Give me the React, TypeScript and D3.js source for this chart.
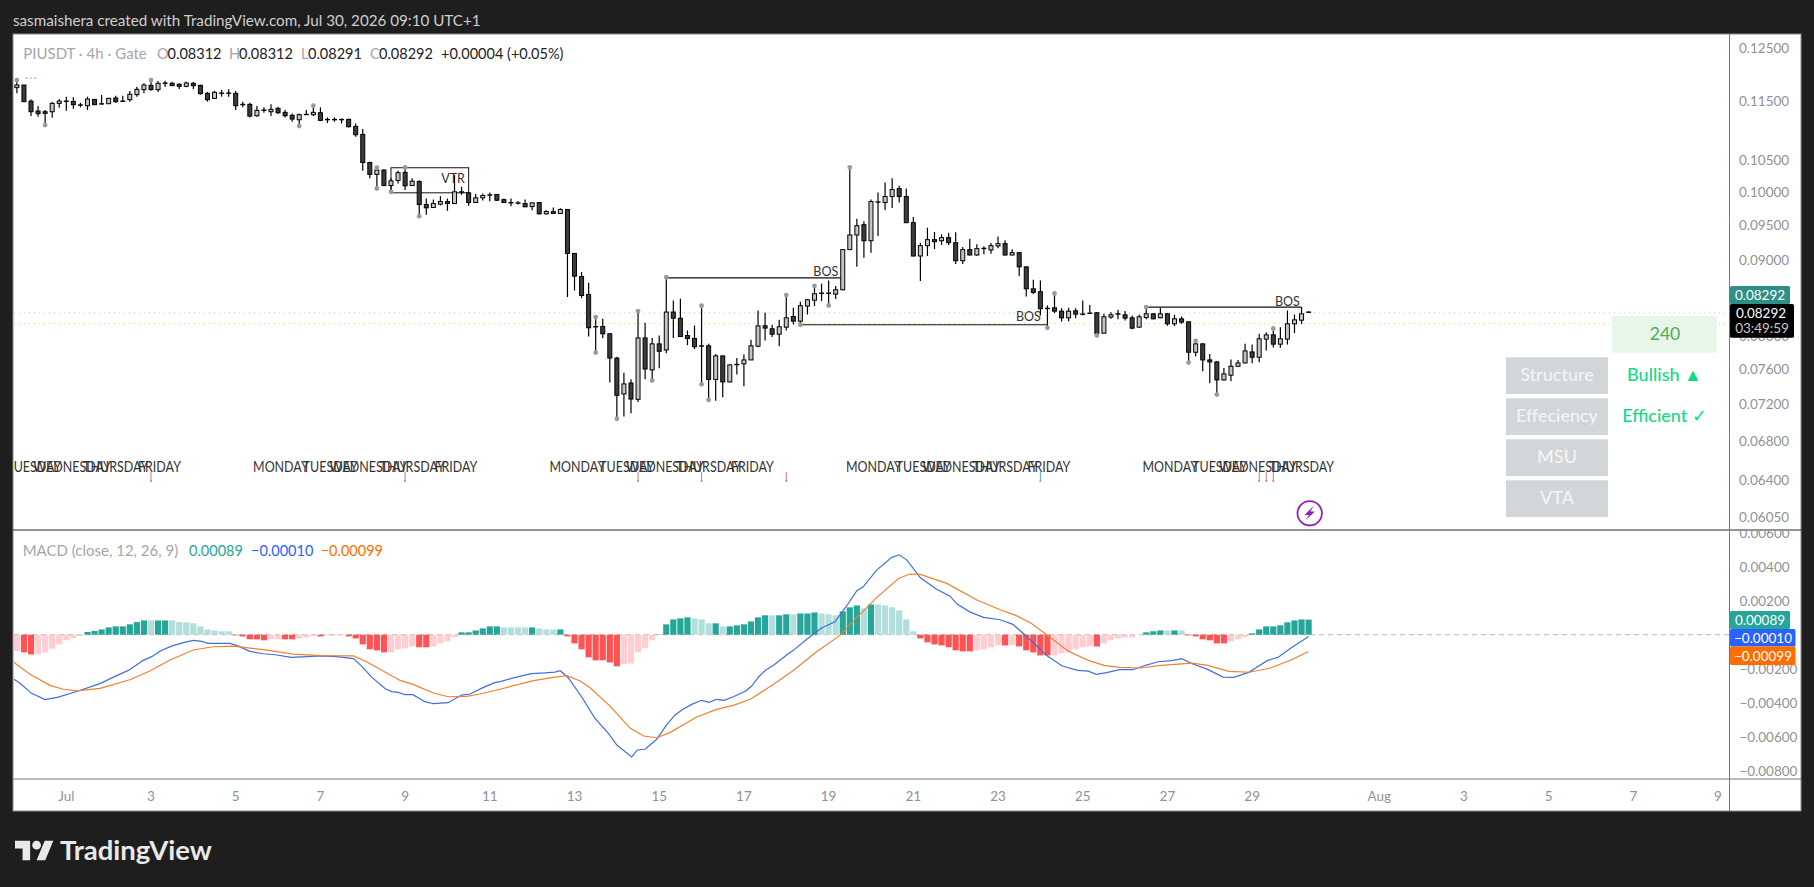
import React from "react";
import * as d3 from "d3";

const opens = [.11751,.11799,.11509,.11333,.11321,.11321,.11468,.11509,.11503,.11451,
.11427,.11539,.11468,.11462,.11564,.11515,.11533,.11624,.11715,.11793,
.11715,.11830,.11830,.11812,.11775,.11830,.11793,.11648,.11557,.11648,
.11648,.11648,.11445,.11451,.11251,.11345,.11321,.11380,.11310,.11257,
.11181,.11269,.11269,.11304,.11187,.11187,.11187,.11187,.11068,.10931,
.10466,.10275,.10344,.10100,.10178,.10307,.10100,.10162,.09807,.09762,
.09812,.09852,.09822,.09997,.09986,.09837,.09909,.09955,.09961,.09882,
.09837,.09832,.09822,.09777,.09837,.09667,.09702,.09672,.09732,.09092,
.08774,.08533,.08114,.08120,.08029,.07733,.07315,.07440,.07255,.07978,
.07593,.07905,.07831,.08304,.08225,.08008,.07971,.07881,.07881,.07482,
.07759,.07453,.07660,.07664,.07711,.07877,.08129,.08092,.08024,.08112,
.08247,.08188,.08381,.08458,.08547,.08547,.08538,.08595,.09146,.09355,
.09506,.09273,.09852,.09837,.09929,.10052,.09929,.09535,.09056,.09202,
.09288,.09273,.09317,.09245,.08990,.09146,.09070,.09160,.09141,.09198,
.09231,.09070,.09103,.08905,.08608,.08569,.08354,.08358,.08315,.08230,
.08320,.08281,.08286,.08294,.08037,.08239,.08277,.08268,.08230,.08112,
.08234,.08281,.08230,.08281,.08154,.08217,.08179,.07803,.07905,.07711,
.07687,.07476,.07531,.07636,.07675,.07807,.07743,.07963,.08016,.07901,
.07963,.08154,.08200,.08312];

const closes = [.11799,.11498,.11321,.11286,.11292,.11468,.11509,.11503,.11445,.11427,
.11545,.11445,.11451,.11557,.11498,.11498,.11630,.11721,.11799,.11715,
.11830,.11836,.11787,.11775,.11836,.11787,.11642,.11533,.11666,.11654,
.11654,.11427,.11451,.11245,.11345,.11351,.11363,.11304,.11251,.11193,
.11269,.11275,.11310,.11170,.11181,.11181,.11181,.11062,.10925,.10466,
.10275,.10344,.10100,.10173,.10302,.10095,.10167,.09807,.09757,.09822,
.09852,.09822,.10002,.10002,.09837,.09909,.09945,.09950,.09872,.09837,
.09832,.09827,.09772,.09832,.09667,.09702,.09672,.09732,.09092,.08778,
.08520,.08104,.08120,.08029,.07733,.07300,.07430,.07258,.07978,.07603,
.07905,.07815,.08304,.08225,.07995,.07971,.07870,.07877,.07482,.07759,
.07453,.07652,.07652,.07711,.07881,.08128,.08100,.08024,.08117,.08230,
.08188,.08385,.08463,.08542,.08551,.08551,.08595,.09146,.09356,.09491,
.09273,.09852,.09837,.09929,.10037,.09929,.09535,.09056,.09202,.09288,
.09259,.09317,.09245,.08990,.09146,.09070,.09160,.09165,.09202,.09231,
.09070,.09103,.08905,.08608,.08560,.08347,.08347,.08315,.08230,.08315,
.08277,.08273,.08290,.08033,.08243,.08268,.08281,.08226,.08099,.08243,
.08281,.08217,.08281,.08154,.08217,.08175,.07803,.07905,.07711,.07687,
.07476,.07546,.07636,.07675,.07819,.07743,.07967,.08016,.07901,.07967,
.08154,.08204,.08281,.08292];

const highs = [.11890,.11799,.11539,.11421,.11351,.11498,.11545,.11588,.11576,.11480,
.11588,.11545,.11618,.11570,.11606,.11606,.11690,.11769,.11830,.11890,
.11872,.11878,.11860,.11830,.11860,.11854,.11806,.11672,.11690,.11708,
.11721,.11690,.11498,.11480,.11421,.11398,.11451,.11409,.11351,.11292,
.11292,.11351,.11427,.11398,.11222,.11222,.11205,.11205,.11118,.11022,
.10477,.10381,.10355,.10212,.10333,.10386,.10212,.10183,.09898,.09882,
.09934,.09898,.10263,.10079,.09992,.09966,.09976,.09992,.09966,.09898,
.09898,.09862,.09882,.09837,.09842,.09722,.09762,.09752,.09737,.09092,
.08833,.08689,.08239,.08217,.08037,.07750,.07560,.07483,.08316,.08168,
.07978,.08007,.08765,.08454,.08476,.08070,.08133,.08385,.07905,.07783,
.07763,.07656,.07734,.07775,.07954,.08324,.08294,.08142,.08204,.08525,
.08358,.08437,.08472,.08645,.08676,.08720,.08645,.09146,.10386,.09595,
.09555,.09883,.09990,.10147,.10215,.10095,.10052,.09620,.09245,.09461,
.09399,.09365,.09389,.09394,.09184,.09302,.09221,.09193,.09240,.09335,
.09278,.09150,.09112,.08909,.08729,.08720,.08389,.08547,.08354,.08358,
.08354,.08454,.08394,.08303,.08281,.08302,.08333,.08316,.08260,.08268,
.08367,.08290,.08358,.08290,.08268,.08247,.08183,.07942,.07913,.07783,
.07695,.07616,.07715,.07711,.07905,.07897,.08029,.08049,.08095,.08112,
.08324,.08272,.08367,.08312];

const lows = [.11648,.11498,.11245,.11234,.11090,.11216,.11392,.11339,.11374,.11398,
.11351,.11439,.11445,.11457,.11480,.11492,.11498,.11588,.11648,.11696,
.11672,.11769,.11781,.11727,.11757,.11727,.11624,.11498,.11551,.11588,
.11588,.11351,.11398,.11222,.11234,.11304,.11245,.11280,.11222,.11147,
.11073,.11263,.11245,.11158,.11124,.11147,.11118,.11050,.10891,.10333,
.10212,.10053,.10090,.10002,.10131,.10028,.10095,.09632,.09652,.09757,
.09792,.09712,.09822,.09955,.09787,.09832,.09867,.09857,.09862,.09832,
.09782,.09807,.09772,.09722,.09657,.09657,.09667,.09667,.08498,.08586,
.08484,.07996,.07799,.07975,.07445,.07040,.07065,.07100,.07225,.07483,
.07468,.07612,.07791,.07978,.07995,.07889,.07840,.07425,.07248,.07240,
.07277,.07449,.07538,.07402,.07711,.07865,.07946,.07988,.07877,.08070,
.08146,.08142,.08273,.08381,.08445,.08389,.08472,.08590,.09140,.08905,
.09032,.09103,.09341,.09720,.09755,.09837,.09535,.09050,.08711,.09056,
.09155,.09212,.09212,.08944,.08944,.09065,.09060,.09080,.09089,.09165,
.09060,.09065,.08781,.08507,.08538,.08261,.08103,.08290,.08184,.08184,
.08226,.08261,.08278,.08008,.08033,.08217,.08213,.08196,.08087,.08104,
.08213,.08213,.08225,.08129,.08125,.08154,.07679,.07751,.07577,.07437,
.07308,.07470,.07460,.07628,.07670,.07671,.07683,.07823,.07860,.07856,
.07897,.08037,.08150,.08291];

const pivotHighBars = [0,19,42,51,55,82,88,92,97,109,113,118,147,160,167,178];
const pivotLowBars = [4,40,51,53,57,82,85,90,97,98,111,115,146,153,166,170];

const histogram = [-.00096,-.00104,-.00116,-.00116,-.00104,-.00082,-.00057,-.00033,-.00020,-.00008,
.00016,.00022,.00031,.00043,.00049,.00049,.00061,.00074,.00084,.00084,
.00084,.00084,.00084,.00074,.00073,.00067,.00049,.00031,.00025,.00020,
.00020,-.00004,-.00010,-.00027,-.00027,-.00033,-.00027,-.00027,-.00027,-.00027,
-.00022,-.00016,-.00008,-.00010,-.00006,-.00006,-.00002,-.00010,-.00022,-.00057,
-.00086,-.00092,-.00104,-.00104,-.00086,-.00080,-.00069,-.00074,-.00074,-.00069,
-.00051,-.00039,-.00016,.00014,.00014,.00025,.00037,.00049,.00049,.00043,
.00043,.00043,.00043,.00043,.00037,.00031,.00031,.00031,-.00010,-.00051,
-.00086,-.00133,-.00151,-.00151,-.00163,-.00186,-.00174,-.00169,-.00104,-.00080,
-.00033,.00002,.00061,.00090,.00096,.00102,.00096,.00090,.00067,.00067,
.00049,.00049,.00055,.00061,.00078,.00102,.00114,.00114,.00114,.00120,
.00120,.00125,.00125,.00131,.00125,.00120,.00114,.00137,.00161,.00172,
.00155,.00178,.00178,.00172,.00161,.00143,.00090,.00020,-.00022,-.00045,
-.00057,-.00063,-.00074,-.00092,-.00098,-.00098,-.00092,-.00086,-.00074,-.00063,
-.00063,-.00063,-.00069,-.00092,-.00104,-.00122,-.00122,-.00122,-.00110,-.00104,
-.00086,-.00074,-.00069,-.00069,-.00051,-.00033,-.00022,-.00016,-.00016,-.00002,
.00014,.00020,.00025,.00025,.00025,.00025,-.00004,-.00010,-.00027,-.00033,
-.00051,-.00051,-.00039,-.00027,-.00014,.00008,.00031,.00049,.00049,.00055,
.00073,.00084,.00090,.00089];

const histPaleBars = [0,3,4,5,6,7,8,9,19,22,23,24,25,26,27,28,29,30,36,37,40,41,42,44,45,46,53,54,55,56,59,60,61,62,69,70,71,72,74,75,76,86,87,88,89,90,96,97,98,100,107,110,114,115,116,120,122,123,124,125,126,127,136,137,138,139,141,147,148,149,150,151,152,154,155,156,157,158,159,163,165,172,173,174];

const macdBars = [-0.5,0.44,2.09,3.98,5.87,8.23,11.77,13.9,15.8,17.9,19.1,20.3,21.9,23.6,25,26.2,27.1,30.2,31.4,33,34.9,36.6,38.9,41.1,43,45.3,47.7,48.9,50.3,52.2,53.1,54,55,56.1,57.8,59,61.1,63,64.2,66.1,67.7,68.45,71.05,72.9,74.8,76.2,77,78.1,80,81.9,83.8,85,87.1,87.9,89,90.65,92.1,93.25,94.2,95.6,97,98.1,99.1,100.2,101.5,103.2,104.1,105.1,106.2,107.2,109.1,110,111.9,114,115.9,117.6,119,119.9,121.8,123.95,125,126.1,128,130.3,132.2,133.2,135.05,136.95,139.3,141.1,143,145.9,148.1,150.3,151.8,152.9,154.4,156.2,158.1,159.9,161.7,163.6,165.05,166.5,168.7,170.9,172.4,174.6,175.7,177.2,178.7,180.5,183];
const macdValues = [-.00259,-.00286,-.00345,-.00382,-.00367,-.00337,-.00288,-.00245,-.00210,-.00151,-.00129,-.00096,-.00067,-.00047,-.00033,-.00039,-.00051,-.00051,-.00067,-.00098,-.00112,-.00118,-.00133,-.00129,-.00125,-.00129,-.00141,-.00188,-.00251,-.00318,-.00335,-.00339,-.00353,-.00353,-.00394,-.00406,-.00400,-.00355,-.00349,-.00310,-.00282,-.00276,-.00247,-.00229,-.00225,-.00220,-.00212,-.00253,-.00365,-.00492,-.00580,-.00649,-.00719,-.00678,-.00674,-.00615,-.00527,-.00472,-.00443,-.00410,-.00386,-.00398,-.00380,-.00386,-.00365,-.00333,-.00302,-.00247,-.00204,-.00180,-.00118,-.00092,-.00027,.00039,.00076,.00172,.00259,.00282,.00380,.00455,.00470,.00439,.00335,.00267,.00227,.00180,.00133,.00102,.00088,.00061,-.00008,-.00122,-.00184,-.00210,-.00214,-.00233,-.00223,-.00206,-.00206,-.00180,-.00159,-.00153,-.00141,-.00171,-.00204,-.00249,-.00251,-.00220,-.00190,-.00151,-.00133,-.00078,-.00010];

const signalBars = [-0.5,1.86,4.7,6.6,8.5,11.8,16,18.9,21.7,25,27.8,30.7,34.9,39.2,43,47.7,49.6,54.3,56.2,59,61.1,63.7,65.6,68.45,73.2,76,77.9,79.8,81.2,84,86.9,88.8,90.65,92.5,96.3,99.15,101.5,103.9,107.2,110,113.1,116.6,118.5,121.8,124.9,126.5,128,131.75,136,139.3,141.5,143.7,145.9,148.9,151.8,154,156.2,159.2,162.1,166.5,168.7,171.7,174.6,177.6,180.5,183];
const signalValues = [-.00161,-.00233,-.00298,-.00321,-.00331,-.00316,-.00265,-.00212,-.00149,-.00090,-.00071,-.00067,-.00088,-.00114,-.00123,-.00125,-.00161,-.00269,-.00294,-.00343,-.00365,-.00363,-.00349,-.00321,-.00270,-.00251,-.00241,-.00272,-.00312,-.00419,-.00551,-.00596,-.00606,-.00576,-.00484,-.00439,-.00416,-.00380,-.00292,-.00210,-.00106,-.00004,.00080,.00218,.00331,.00357,.00355,.00302,.00204,.00147,.00114,.00067,0,-.00096,-.00151,-.00180,-.00192,-.00196,-.00180,-.00167,-.00180,-.00216,-.00221,-.00196,-.00149,-.00099];

const priceTicks = [.125,.115,.105,.1,.095,.09,.08,.076,.072,.068,.064,.0605];
const macdTicks = [.006,.004,.002,-.002,-.004,-.006,-.008];
const dayLabels = ["Jul","3","5","7","9","11","13","15","17","19","21","23","25","27","29","Aug","3","5","7","9"];
const dayBars = [7,19,31,43,55,67,79,91,103,115,127,139,151,163,175,193,205,217,229,241];

const weekdayNames = ["TUESDAY","WEDNESDAY","THURSDAY","FRIDAY","MONDAY","TUESDAY","WEDNESDAY","THURSDAY","FRIDAY","MONDAY","TUESDAY","WEDNESDAY","THURSDAY","FRIDAY","MONDAY","TUESDAY","WEDNESDAY","THURSDAY","FRIDAY","MONDAY","TUESDAY","WEDNESDAY","THURSDAY"];
const weekdayBars = [2.4,7.8,14,20.2,37.4,44.4,49.8,56,62.2,79.4,86.4,91.8,98,104.2,121.4,128.4,133.8,140,146.2,163.4,170.4,175.8,182];

const redSignalBars = [19,55,88,109,176,177,178];
const greenSignalBars = [97,145];

const lastPrice = 0.08292;
const levelPrice = 0.08158;

const bosLevels = [
  { from: 92, to: 117, price: 0.08756, labelBar: 114.6, above: 6 },
  { from: 111, to: 146, price: 0.08142, labelBar: 143.3, above: 8 },
  { from: 160, to: 182, price: 0.08367, labelBar: 180, above: 5.5 },
];
const vtrBox = { from: 53, to: 64, top: 0.10381, bottom: 0.09986, labelBar: 61.8 };

const panelLabels = ["Structure", "Effeciency", "MSU", "VTA"];
const panelValues = ["Bullish ▲", "Efficient ✓"];
const timeframe = "240";

const legendParts = [
  { t: "O", v: "0.08312", x: 157, vx: 167.6 },
  { t: "H", v: "0.08312", x: 229, vx: 239 },
  { t: "L", v: "0.08291", x: 301, vx: 308 },
  { t: "C", v: "0.08292", x: 370, vx: 379 },
];

const FONT = "Lato, 'Noto Sans', sans-serif";
const minus = (s: string) => s.replace("-", "−");

export default function App() {
  const barX = d3.scaleLinear().domain([19, 241]).range([151, 1718]);
  const py = d3.scaleLog().domain([0.125, 0.0605]).range([47.7, 516.7]);
  const my = d3.scaleLinear().domain([0.006, -0.008]).range([532.7, 770.7]);

  const macdLine = d3.line<number>().x((b) => barX(b)).y((_, i) => my(macdValues[i]));
  const signalLine = d3.line<number>().x((b) => barX(b)).y((_, i) => my(signalValues[i]));
  const pale = new Set(histPaleBars);

  const axisText = { fontFamily: FONT, fontSize: 13.5, fill: "#8f9296" };

  return (
    <svg width={1814} height={887} viewBox="0 0 1814 887" style={{ position: "absolute", left: 0, top: 0, display: "block" }}>
      <defs>
        <clipPath id="pricePane"><rect x={14} y={34} width={1715} height={495} /></clipPath>
        <clipPath id="macdPane"><rect x={14} y={531} width={1715} height={248} /></clipPath>
        <clipPath id="macdAxis"><rect x={1730} y={531} width={71} height={248} /></clipPath>
      </defs>
      <rect x={0} y={0} width={1814} height={887} fill="#1e1e1e" />
      <text x={13} y={25.5} fontFamily={FONT} fontSize={15.2} fill="#cfcfcf">sasmaishera created with TradingView.com, Jul 30, 2026 09:10 UTC+1</text>

      <rect x={13} y={34} width={1788} height={777} fill="#ffffff" stroke="#8a8a8a" strokeWidth={1} />
      <line x1={13} x2={1801} y1={530} y2={530} stroke="#2a2a2a" strokeWidth={1.2} />
      <line x1={13} x2={1801} y1={779} y2={779} stroke="#787878" strokeWidth={1} />
      <line x1={1729.5} x2={1729.5} y1={34} y2={811} stroke="#787878" strokeWidth={1} />

      <g clipPath="url(#pricePane)">
        <line x1={14} x2={1729} y1={py(lastPrice)} y2={py(lastPrice)} stroke="#c4c4c4" strokeDasharray="1 4" />
        <line x1={14} x2={1729} y1={py(levelPrice)} y2={py(levelPrice)} stroke="#e4e468" strokeDasharray="1 4" />

        {weekdayNames.map((n, i) => (
          <text key={i} transform={`translate(${barX(weekdayBars[i])},472) scale(0.86,1)`} textAnchor="middle" fontFamily={FONT} fontSize={14.5} fill="#333">{n}</text>
        ))}

        {bosLevels.map((b, i) => (
          <g key={i}>
            <line x1={barX(b.from)} x2={barX(b.to)} y1={py(b.price)} y2={py(b.price)} stroke="#111" strokeWidth={1.2} />
            <text x={barX(b.labelBar)} y={py(b.price) - b.above + 4} textAnchor="middle" fontFamily={FONT} fontSize={12.5} fill="#333">BOS</text>
          </g>
        ))}
        <rect x={barX(vtrBox.from)} y={py(vtrBox.top)} width={barX(vtrBox.to) - barX(vtrBox.from)} height={py(vtrBox.bottom) - py(vtrBox.top)} fill="none" stroke="#111" strokeWidth={1} />
        <text x={barX(vtrBox.labelBar)} y={py(vtrBox.top) + 15.5} textAnchor="middle" fontFamily={FONT} fontSize={12.5} fill="#333">VTR</text>

        {opens.map((o, i) => {
          const c = closes[i];
          const x = barX(i);
          const top = py(Math.max(o, c));
          const bot = py(Math.min(o, c));
          const up = c >= o;
          return (
            <g key={i}>
              <line x1={x} x2={x} y1={py(highs[i])} y2={py(lows[i])} stroke="#000" strokeWidth={1.2} />
              {bot - top > 1.6 ? (
                <rect x={x - 2} y={top} width={4} height={bot - top} fill={up ? "#c4c4c4" : "#3c3c3c"} stroke="#000" strokeWidth={1} />
              ) : (
                <rect x={x - 2.5} y={(top + bot) / 2 - 0.7} width={5} height={1.4} fill="#000" />
              )}
            </g>
          );
        })}

        {pivotHighBars.map((b) => <circle key={"h" + b} cx={barX(b)} cy={py(highs[b])} r={2.4} fill="#9a9a9a" />)}
        {pivotLowBars.map((b) => <circle key={"l" + b} cx={barX(b)} cy={py(lows[b])} r={2.4} fill="#9a9a9a" />)}

        {redSignalBars.map((b) => (
          <g key={"r" + b}>
            <line x1={barX(b)} x2={barX(b)} y1={472} y2={481} stroke="#e57373" strokeWidth={1} />
            <circle cx={barX(b)} cy={481} r={1} fill="#e57373" />
          </g>
        ))}
        {greenSignalBars.map((b) => (
          <g key={"g" + b}>
            <line x1={barX(b)} x2={barX(b)} y1={472} y2={481} stroke="#4db6ac" strokeWidth={1} />
            <circle cx={barX(b)} cy={481} r={1} fill="#4db6ac" />
          </g>
        ))}
      </g>

      <text x={25} y={82} fontFamily={FONT} fontSize={11} fill="#aaa" letterSpacing={1.5}>···</text>

      <text x={23.3} y={59} fontFamily={FONT} fontSize={15} fill="#a4a6aa">PIUSDT · 4h · Gate</text>
      {legendParts.map((p) => (
        <g key={p.t}>
          <text x={p.x} y={59} fontFamily={FONT} fontSize={14.5} fill="#a4a6aa">{p.t}</text>
          <text x={p.vx} y={59} fontFamily={FONT} fontSize={14.5} fill="#222">{p.v}</text>
        </g>
      ))}
      <text x={441} y={59} fontFamily={FONT} fontSize={14.5} fill="#222">+0.00004 (+0.05%)</text>

      <g>
        <rect x={1612} y={316} width={104.7} height={36.7} fill="#e8f5e9" />
        <text x={1665} y={340} textAnchor="middle" fontFamily={FONT} fontSize={17.5} fill="#4caf50">{timeframe}</text>
        {panelLabels.map((l, i) => (
          <g key={l}>
            <rect x={1506} y={357.3 + i * 41} width={102} height={36.7} fill="#d3d6d8" />
            <text x={1557} y={381 + i * 41} textAnchor="middle" fontFamily={FONT} fontSize={18} fontWeight={500} fill="#f4f4f4">{l}</text>
          </g>
        ))}
        {panelValues.map((v, i) => (
          <text key={v} x={1664.5} y={381 + i * 41} textAnchor="middle" fontFamily={FONT} fontSize={18} fontWeight={500} fill="#14d98a">{v}</text>
        ))}
      </g>

      <g clipPath="url(#macdPane)">
        <line x1={14} x2={1729} y1={my(0)} y2={my(0)} stroke="#b5b5b5" strokeDasharray="5 4" />
        {histogram.map((v, i) => {
          const y0 = my(0);
          const y1 = my(v);
          const isPale = pale.has(i);
          const fill = v >= 0 ? (isPale ? "#b2dfdb" : "#26a69a") : (isPale ? "#ffcdd2" : "#ff5252");
          return <rect key={i} x={barX(i) - 3.1} y={Math.min(y0, y1)} width={6.2} height={Math.abs(y1 - y0)} fill={fill} />;
        })}
        <path d={macdLine(macdBars) ?? ""} fill="none" stroke="#3f6fd8" strokeWidth={1.2} />
        <path d={signalLine(signalBars) ?? ""} fill="none" stroke="#f08030" strokeWidth={1.2} />
      </g>

      <text x={22.7} y={556} fontFamily={FONT} fontSize={15} fill="#a4a6aa">MACD (close, 12, 26, 9)</text>
      <text x={189} y={556} fontFamily={FONT} fontSize={14.5} fill="#26a69a">0.00089</text>
      <text x={251} y={556} fontFamily={FONT} fontSize={14.5} fill="#2962ff">−0.00010</text>
      <text x={320.7} y={556} fontFamily={FONT} fontSize={14.5} fill="#ff6d00">−0.00099</text>

      {priceTicks.map((t) => (
        <text key={t} x={1739} y={py(t) + 4.8} {...axisText}>{t.toFixed(5)}</text>
      ))}
      <g clipPath="url(#macdAxis)">
        {macdTicks.map((t) => (
          <text key={t} x={1739.4} y={my(t) + 4.8} {...axisText}>{minus(t.toFixed(5))}</text>
        ))}
      </g>

      <rect x={1730} y={286} width={60} height={18} rx={1.5} fill="#2e8f84" />
      <text x={1760} y={300} textAnchor="middle" fontFamily={FONT} fontSize={13.5} fill="#fff">0.08292</text>
      <rect x={1730} y={304} width={64} height={33.7} rx={1.5} fill="#000" />
      <text x={1761} y={318} textAnchor="middle" fontFamily={FONT} fontSize={13.5} fill="#fff">0.08292</text>
      <text x={1762} y={333} textAnchor="middle" fontFamily={FONT} fontSize={13.5} fill="#c8c8c8">03:49:59</text>

      <rect x={1730} y={611} width={60} height={18} rx={1.5} fill="#26a69a" />
      <text x={1760} y={625} textAnchor="middle" fontFamily={FONT} fontSize={13.5} fill="#fff">0.00089</text>
      <rect x={1730} y={629} width={65.5} height={17.5} rx={1.5} fill="#2962ff" />
      <text x={1763} y={642.5} textAnchor="middle" fontFamily={FONT} fontSize={13.5} fill="#fff">−0.00010</text>
      <rect x={1730} y={646.5} width={65.5} height={18.5} rx={1.5} fill="#ff6d00" />
      <text x={1763} y={660.5} textAnchor="middle" fontFamily={FONT} fontSize={13.5} fill="#fff">−0.00099</text>

      {dayLabels.map((d, i) => (
        <text key={i} x={barX(dayBars[i])} y={800.5} textAnchor="middle" {...axisText}>{d}</text>
      ))}

      <circle cx={1309.7} cy={513.3} r={12.2} fill="#fff" stroke="#8e24aa" strokeWidth={1.8} />
      <path d="M1313.5,506 L1304.5,515 L1309,515 L1305,520.5 L1315,511.5 L1310.5,511.5 Z" fill="#8e24aa" />

      <g transform="translate(15,836.5) scale(1.08)" fill="#e9e9e9">
        <path d="M14 22H7V11H0V4h14v18zM28 22h-8l7.5-18h8L28 22z" />
        <circle cx={20} cy={8} r={4} />
      </g>
      <text x={60} y={860} fontFamily={FONT} fontSize={27.5} fontWeight={700} fill="#e9e9e9">TradingView</text>
    </svg>
  );
}
